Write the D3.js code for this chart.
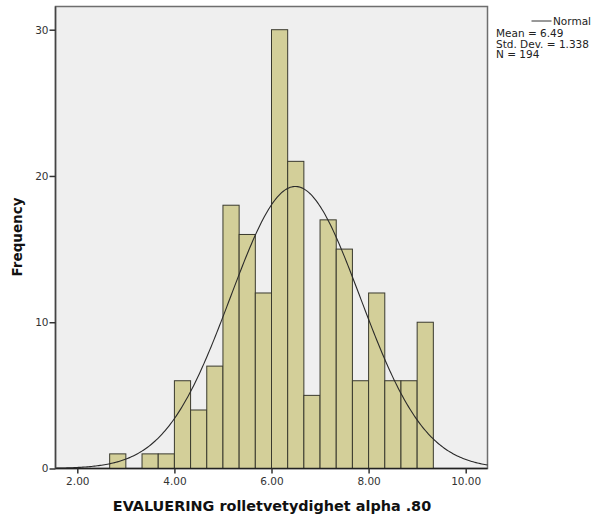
<!DOCTYPE html>
<meta charset="utf-8">
<style>
body { margin: 0; background: white; }
text { font-family: "DejaVu Sans", sans-serif; }
</style>
<body>
<script src="https://d3js.org/d3.v7.min.js"></script>
<script>

// Histogram bins (start of each bin, width 1/3) and counts
const binStarts = [8/3, 3, 10/3, 11/3, 4, 13/3, 14/3, 5, 16/3, 17/3, 6, 19/3, 20/3, 7, 22/3, 23/3, 8, 25/3, 26/3, 9]
const counts = [1, 0, 1, 1, 6, 4, 7, 18, 16, 12, 30, 21, 5, 17, 15, 6, 12, 6, 6, 10]
const binWidth = 1 / 3

const xTicks = [2, 4, 6, 8, 10]
const yTicks = [0, 10, 20, 30]

const mean = 6.49
const sd = 1.338
const n = 194

const width = 597
const height = 517
const plot = { left: 55.5, right: 487.5, top: 6.5, bottom: 468.5 }

const svg = d3.select('body')
  .append('svg')
  .attr('width', width)
  .attr('height', height)

const x = d3.scaleLinear()
  .domain([2, 10])
  .range([77.3, 465.7])

const y = d3.scaleLinear()
  .domain([0, 30])
  .range([468.5, 29.7])

// plot background
svg.append('rect')
  .attr('x', plot.left)
  .attr('y', plot.top)
  .attr('width', plot.right - plot.left)
  .attr('height', plot.bottom - plot.top)
  .attr('fill', '#efefef')
  .attr('stroke', '#6e6e6e')
  .attr('stroke-width', 1.5)

// bars
svg.append('g')
  .selectAll('rect')
  .data(binStarts.map((s, i) => ({ s, c: counts[i] })).filter(d => d.c > 0))
  .join('rect')
  .attr('x', d => x(d.s))
  .attr('y', d => y(d.c))
  .attr('width', d => x(d.s + binWidth) - x(d.s))
  .attr('height', d => y(0) - y(d.c))
  .attr('fill', '#d3cf99')
  .attr('stroke', '#3a3a2e')
  .attr('stroke-width', 1)

// normal curve
const lo = x.invert(plot.left), hi = x.invert(plot.right)
const pts = d3.range(0, 301).map(i => lo + (hi - lo) * i / 300)
const pdf = v => n * binWidth * Math.exp(-0.5 * ((v - mean) / sd) ** 2) / (sd * Math.sqrt(2 * Math.PI))
svg.append('path')
  .datum(pts)
  .attr('d', d3.line().x(v => x(v)).y(v => y(pdf(v))))
  .attr('fill', 'none')
  .attr('stroke', '#2a2a2a')
  .attr('stroke-width', 1.1)

// axes
const xAxis = svg.append('g')
  .attr('transform', `translate(0,${plot.bottom})`)
  .call(d3.axisBottom(x).tickValues(xTicks).tickFormat(d3.format('.2f')).tickSize(5).tickSizeOuter(0))
xAxis.select('.domain').attr('d', `M${plot.left},0H${plot.right}`).attr('stroke', '#222').attr('stroke-width', 1.5)

const yAxis = svg.append('g')
  .attr('transform', `translate(${plot.left},0)`)
  .call(d3.axisLeft(y).tickValues(yTicks).tickSize(6).tickSizeOuter(0))
yAxis.select('.domain').attr('d', `M0,${plot.top}V${plot.bottom}`).attr('stroke', '#444').attr('stroke-width', 1.5)

svg.selectAll('.tick line').attr('stroke', '#333').attr('stroke-width', 1.5)
svg.selectAll('.tick text')
  .attr('font-family', '"DejaVu Sans", sans-serif')
  .attr('font-size', 10.5)
  .attr('fill', '#333')
yAxis.selectAll('.tick text').attr('x', -7)
xAxis.selectAll('.tick text').attr('y', 9)

// axis titles
svg.append('text')
  .attr('x', 272)
  .attr('y', 511)
  .attr('text-anchor', 'middle')
  .attr('font-size', 14.4)
  .attr('font-weight', 'bold')
  .attr('fill', '#111')
  .text('EVALUERING rolletvetydighet alpha .80')

svg.append('text')
  .attr('transform', 'translate(22,237) rotate(-90)')
  .attr('text-anchor', 'middle')
  .attr('font-size', 13.5)
  .attr('font-weight', 'bold')
  .attr('fill', '#111')
  .text('Frequency')

// legend
svg.append('line')
  .attr('x1', 531.5).attr('x2', 551.5)
  .attr('y1', 21).attr('y2', 21)
  .attr('stroke', '#333')
svg.append('text')
  .attr('x', 553).attr('y', 25)
  .attr('font-size', 10.5)
  .attr('fill', '#222')
  .text('Normal')

const stats = [`Mean = ${mean}`, `Std. Dev. = ${sd}`, `N = ${n}`]
svg.append('g')
  .selectAll('text')
  .data(stats)
  .join('text')
  .attr('x', 496)
  .attr('y', (d, i) => 37 + i * 10.5)
  .attr('font-size', 10.5)
  .attr('fill', '#222')
  .text(d => d)

</script>
</body>
